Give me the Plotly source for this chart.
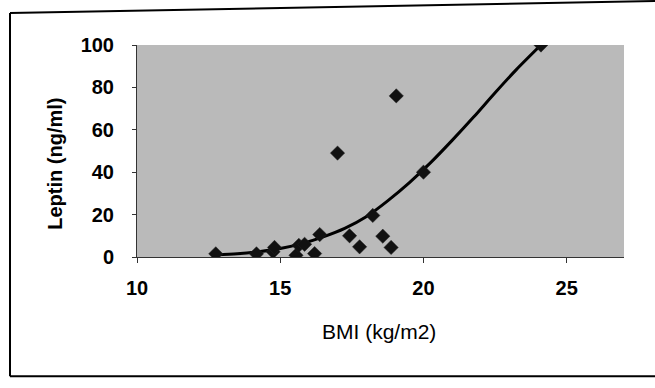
import plotly.graph_objects as go

# Data
bmi = [12.75, 14.17, 14.75, 14.8, 15.55, 15.65, 15.85, 16.2, 16.38, 17.0,
       17.42, 17.77, 18.23, 18.58, 18.87, 19.05, 20.0, 24.1]
leptin = [1.5, 1.5, 2.5, 4.5, 0.8, 5.5, 6.0, 1.6, 10.6, 49.0,
          10.0, 4.8, 19.6, 9.8, 4.5, 76.0, 40.0, 100.0]

# Trend line as drawn on the chart
trend_bmi = [12.75, 13.5, 14.25, 15.0, 15.75, 16.5, 17.25, 18.0, 18.75,
             19.5, 20.25, 21.0, 21.75, 22.5, 23.25, 24.1]
trend_leptin = [1.0, 1.5, 2.5, 4.0, 6.3, 9.5, 13.5, 19.0, 26.5,
                35.0, 44.5, 55.0, 66.0, 77.5, 88.5, 100.0]

x_ticks = [10, 15, 20, 25]
y_ticks = [0, 20, 40, 60, 80, 100]

FONT = "Liberation Sans, Arial, sans-serif"

fig = go.Figure()
fig.add_trace(go.Scatter(
    x=trend_bmi, y=trend_leptin, mode="lines",
    line=dict(color="black", width=3, shape="spline", smoothing=0.8),
    hoverinfo="skip", showlegend=False))
fig.add_trace(go.Scatter(
    x=bmi, y=leptin, mode="markers",
    marker=dict(symbol="diamond", size=11, color="#111111",
                line=dict(color="#222222", width=0.5)),
    showlegend=False))

# plot area geometry in pixels
L, R, T, B = 137, 624, 45, 257.5
W, H = R - L, B - T

def px(xp):
    return (xp - L) / W

def py(yp):
    return (B - yp) / H

fig.update_layout(
    width=655, height=388,
    margin=dict(l=L, r=655 - R, t=T, b=388 - B, pad=0),
    paper_bgcolor="white",
    plot_bgcolor="#bababa",
    font=dict(family=FONT, color="black"),
    xaxis=dict(range=[10, 27], tickvals=x_ticks, showgrid=False, zeroline=False,
               showline=True, linecolor="#333333", linewidth=1,
               ticks="outside", ticklen=5, tickcolor="#333333",
               tickfont=dict(size=20, weight="bold", family=FONT),
               ticklabelstandoff=8),
    yaxis=dict(range=[0, 100], tickvals=y_ticks, showgrid=False, zeroline=False,
               showline=True, linecolor="#333333", linewidth=1,
               ticks="outside", ticklen=4, tickcolor="#333333",
               tickfont=dict(size=20, weight="bold", family=FONT),
               ticklabelstandoff=14),
    annotations=[
        dict(text="Leptin (ng/ml)", xref="paper", yref="paper",
             x=px(55), y=py(164), textangle=-90, showarrow=False,
             xanchor="center", yanchor="middle",
             font=dict(size=20, weight="bold", family=FONT)),
        dict(text="BMI (kg/m2)", xref="paper", yref="paper",
             x=px(379), y=py(332), showarrow=False,
             xanchor="center", yanchor="middle",
             font=dict(size=21, family=FONT)),
    ],
    shapes=[
        dict(type="line", xref="paper", yref="paper",
             x0=px(10), y0=py(13), x1=px(10), y1=py(377),
             line=dict(color="black", width=2)),
        dict(type="line", xref="paper", yref="paper",
             x0=px(10), y0=py(377), x1=px(655), y1=py(377),
             line=dict(color="black", width=2)),
        dict(type="line", xref="paper", yref="paper",
             x0=px(10), y0=py(13), x1=px(655), y1=py(1),
             line=dict(color="black", width=2)),
    ],
)

fig.write_html("out.html")
